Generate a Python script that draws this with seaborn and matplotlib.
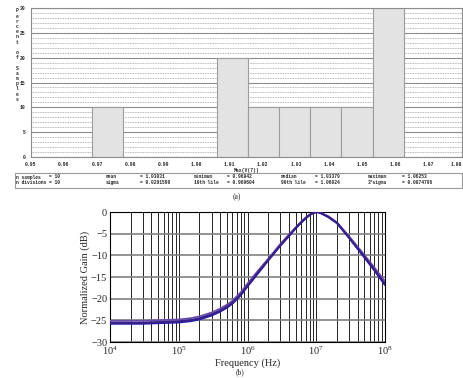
import numpy as np
import pandas as pd
import matplotlib
matplotlib.use('Agg')
import matplotlib.pyplot as plt
from matplotlib.patches import Rectangle
import seaborn as sns

# ---- (a) Monte Carlo histogram data ----
n_samples = 10
n_divisions = 10
minimum = 0.96842
maximum = 1.06253
pct_counts = [10, 0, 0, 0, 20, 10, 10, 10, 10, 30]
x_ticks = [0.95, 0.96, 0.97, 0.98, 0.99, 1.00, 1.01, 1.02, 1.03, 1.04, 1.05, 1.06, 1.07, 1.08]
stats_rows = [
    [('n samples', '= 10'), ('mean', '= 1.03031'), ('minimum', '= 0.96842'),
     ('median', '= 1.03379'), ('maximum', '= 1.06253')],
    [('n divisions', '= 10'), ('sigma', '= 0.0291599'), ('10th %ile', '= 0.969604'),
     ('90th %ile', '= 1.06024'), ('3*sigma', '= 0.0874796')],
]

# ---- (b) frequency response curves ----
freq_hz = [1e4, 3e4, 1e5, 1.5e5, 2e5, 3e5, 4e5, 5e5, 6e5, 8e5, 1e6, 1.5e6, 2e6, 3e6, 4e6,
           5e6, 6e6, 7e6, 8e6, 9e6, 1e7, 1.1e7, 1.2e7, 1.5e7, 2e7, 3e7, 5e7, 7e7, 1e8]
gain_a = [-25.5, -25.5, -25.2, -24.9, -24.5, -23.6, -22.7, -21.8, -20.9, -18.9, -16.9, -13.4,
          -11.0, -7.6, -5.4, -3.7, -2.4, -1.4, -0.7, -0.2, 0.0, -0.1, -0.35, -1.1, -2.5,
          -5.8, -10.2, -13.2, -16.5]
gain_b = [-25.1, -25.1, -24.8, -24.5, -24.1, -23.2, -22.3, -21.4, -20.5, -18.5, -16.5, -13.1,
          -10.8, -7.4, -5.2, -3.6, -2.3, -1.3, -0.6, -0.2, 0.0, -0.1, -0.3, -1.0, -2.4,
          -5.6, -9.9, -12.8, -16.0]
gain_c = [-25.8, -25.8, -25.5, -25.2, -24.8, -23.9, -23.0, -22.1, -21.2, -19.2, -17.2, -13.7,
          -11.2, -7.8, -5.6, -3.8, -2.5, -1.5, -0.7, -0.2, 0.0, -0.1, -0.4, -1.2, -2.6,
          -6.0, -10.5, -13.5, -16.9]
gain_d = [-25.6, -25.6, -25.3, -25.0, -24.6, -23.7, -22.8, -21.9, -21.0, -19.0, -17.0, -13.5,
          -11.1, -7.7, -5.5, -3.7, -2.4, -1.4, -0.7, -0.2, 0.0, -0.1, -0.35, -1.1, -2.5,
          -5.9, -10.3, -13.3, -16.7]
curve_colors = ['#2a2a9c', '#6a4aa8', '#1a1ab0', '#3b1f86']

sns.set_theme(style='white')
plt.rcParams['font.family'] = ['Liberation Serif', 'DejaVu Serif']
mono = 'Liberation Mono'

fig = plt.figure(figsize=(4.64, 3.78), dpi=100)

# ================= (a) =================
ax1 = fig.add_axes([0.0662, 0.5854, 0.9289, 0.3926])
edges = np.linspace(minimum, maximum, n_divisions + 1)
hist_df = pd.DataFrame({'value': (edges[:-1] + edges[1:]) / 2, 'pct': pct_counts})
sns.histplot(data=hist_df, x='value', weights='pct', bins=n_divisions, binrange=(minimum, maximum),
             ax=ax1, color='#e3e3e3', edgecolor='#9c9c9c', linewidth=0.8, alpha=1, zorder=2)
ax1.set_xlim(0.95, 1.08)
ax1.set_ylim(0, 30)
ax1.set_xticks(x_ticks)
xl = ax1.set_xticklabels(['%.2f' % v for v in x_ticks], fontsize=3.4, family=mono, weight='bold')
xl[-1].set_ha('right')
ax1.set_yticks(range(0, 31, 5))
ax1.set_yticklabels([str(v) for v in range(0, 31, 5)], fontsize=3.4, family=mono, weight='bold')
ax1.set_yticks(range(0, 31), minor=True)
ax1.set_axisbelow(True)
ax1.yaxis.grid(True, which='major', color='#8c8c8c', lw=0.8)
ax1.yaxis.grid(True, which='minor', color='#8c8c8c', lw=0.5, ls=(0, (1.2, 1.2)))
ax1.xaxis.grid(False)
ax1.tick_params(axis='both', which='major', length=2, width=0.5, pad=1.5, color='#8c8c8c', direction='out')
ax1.tick_params(axis='y', which='minor', length=0)
ax1.set_xlabel('Max(V(7))', fontsize=3.4, family=mono, weight='bold', labelpad=1)
ax1.set_ylabel('')
for s in ax1.spines.values():
    s.set_color('#8c8c8c')
    s.set_linewidth(0.8)

fig.text(17 / 464, 1 - 55 / 378, '\n'.join(list('Percent of Samples')), ha='center', va='center',
         fontsize=3.4, family=mono, weight='bold', linespacing=1.05)

# stats box
fig.add_artist(Rectangle((15 / 464, 1 - 187.7 / 378), (462 - 15) / 464, 15 / 378,
                         transform=fig.transFigure, fill=False, ec='#9a9a9a', lw=0.8))
col_x = [(16, 49), (106, 140), (194, 227), (281, 315), (368, 402)]
row_y = [177, 182.5]
for r, row in enumerate(stats_rows):
    for c, (name, val) in enumerate(row):
        fig.text(col_x[c][0] / 464, 1 - row_y[r] / 378, name, fontsize=3.3, family=mono,
                 weight='bold', va='center')
        fig.text(col_x[c][1] / 464, 1 - row_y[r] / 378, val, fontsize=3.3, family=mono,
                 weight='bold', va='center')

fig.text(237 / 464, 1 - 197 / 378, '(a)', ha='center', va='center', fontsize=5.5)

# ================= (b) =================
ax2 = fig.add_axes([0.2371, 0.0952, 0.5927, 0.3439])
curves = {'a': gain_a, 'b': gain_b, 'c': gain_c, 'd': gain_d}
df = pd.concat([pd.DataFrame({'freq': freq_hz, 'gain': g, 'run': k}) for k, g in curves.items()])
ax2.set_xscale('log')
sns.lineplot(data=df, x='freq', y='gain', hue='run', palette=curve_colors, lw=1.3,
             legend=False, ax=ax2, estimator=None, sort=False, zorder=3)
ax2.set_xlim(1e4, 1e8)
ax2.set_ylim(-30, 0)
ax2.set_yticks(range(-30, 1, 5))
ax2.grid(True, which='both', axis='x', color='black', lw=0.6)
ax2.grid(True, which='major', axis='y', color='#808080', lw=1.2)
ax2.tick_params(axis='both', which='both', length=0, labelsize=7.5, pad=2)
ax2.set_xlabel('Frequency (Hz)', fontsize=7.5, labelpad=1)
ax2.set_ylabel('Normalized Gain (dB)', fontsize=7.5, labelpad=1)
for s in ax2.spines.values():
    s.set_color('black')
    s.set_linewidth(0.8)

fig.text(240 / 464, 1 - 372 / 378, '(b)', ha='center', va='center', fontsize=5.5)

fig.savefig('out.png', dpi=100)
